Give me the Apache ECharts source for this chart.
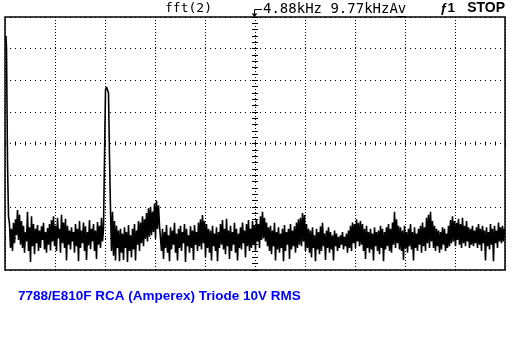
<!DOCTYPE html>
<html>
<head>
<meta charset="utf-8">
<script src="https://cdn.jsdelivr.net/npm/echarts@6/dist/echarts.min.js"></script>
<style>
html,body{margin:0;padding:0;background:#fff;}
#chart{width:522px;height:360px;}
</style>
</head>
<body>
<div id="chart"></div>
<script>
// ---- texts ----
const channelLabel = 'fft(2)';
const freqLabel = '4.88kHz 9.77kHzAv';
const trigLabel = 'ƒ1';
const stateLabel = 'STOP';
const captionText = '7788/E810F RCA (Amperex) Triode 10V RMS';

// ---- axis scale (screen divisions) ----
const binCount = 500;          // FFT bins across 10 horizontal divisions
const binsPerDiv = 50;
const vDivs = 8;               // vertical divisions

// ---- magnitude values (in vertical divisions above the bottom graticule), one per bin ----
// DC spike
const dcSpike = [7.40, 7.00, 3.40, 1.70];
// noise floor before the 1 kHz fundamental
const noiseLow = [
  1.45,0.70,1.30,0.60,1.49,0.85,1.60,
  1.10,1.90,0.95,1.75,0.80,1.55,
  0.70,1.40,0.55,1.20,0.90,1.84,0.60,1.35,
  0.25,1.70,0.75,1.45,0.50,1.30,0.85,1.42,0.60,1.25,
  0.70,1.38,0.95,1.49,0.65,1.20,0.55,1.33,0.80,1.45,
  0.62,1.58,0.90,1.70,0.75,1.40,0.60,1.65,1.00,1.30,
  0.55,1.75,0.85,1.50,0.70,1.62,0.30,1.40,0.80,1.25,
  0.65,1.35,0.90,1.20,0.55,1.45,0.75,1.30,0.28,1.55,
  0.70,1.25,0.85,1.50,0.60,1.38,0.32,1.20,0.78,1.58,
  0.66,1.30,0.90,1.45,0.60,1.25,0.35,1.52,0.80,1.40,
  0.70,1.65,0.90,1.30
];
// fundamental peak (~1 kHz)
const fundamental = [3.54, 5.70, 5.79, 5.79, 5.60, 3.58, 1.90];
// noise floor after the fundamental
const noiseHigh = [
  0.60,1.84,0.45,1.55,0.30,1.40,0.70,1.25,0.28,
  1.30,0.55,1.15,0.32,1.35,0.70,1.20,0.25,1.42,0.60,
  1.10,0.40,1.30,0.65,1.45,0.30,1.25,0.80,1.55,0.60,
  1.50,0.85,1.70,0.75,1.60,1.00,1.80,0.90,1.95,1.05,
  2.00,1.10,1.85,1.20,2.10,1.00,2.20,1.30,2.05,1.40,
  1.45,0.60,1.30,0.35,1.20,0.70,1.42,0.55,1.10,0.28,
  1.35,0.65,1.25,0.80,1.49,0.55,1.15,0.30,1.30,0.70,
  1.40,0.60,1.20,0.85,1.45,0.25,1.30,0.75,1.10,0.55,
  1.38,0.70,1.25,0.32,1.42,0.80,1.20,0.60,1.50,0.75,
  1.60,0.65,1.74,0.85,1.55,0.40,1.45,0.70,1.30,0.55,
  1.25,0.30,1.40,0.75,1.15,0.60,1.35,0.28,1.20,0.70,
  1.45,0.80,1.58,0.65,1.30,0.50,1.62,0.75,1.25,0.35,
  1.40,0.60,1.20,0.80,1.49,0.55,1.30,0.30,1.15,0.70,
  1.35,0.65,1.50,0.85,1.25,0.40,1.45,0.75,1.58,0.60,
  1.30,0.70,1.55,0.80,1.40,0.62,1.60,0.90,1.45,0.70,
  1.70,0.95,1.84,1.00,1.65,0.90,1.50,0.75,1.35,0.60,
  1.40,0.50,1.25,0.75,1.49,0.30,1.20,0.65,1.35,0.55,
  1.15,0.70,1.30,0.28,1.42,0.60,1.20,0.80,1.30,0.35,
  1.45,0.65,1.25,0.75,1.38,0.55,1.50,0.70,1.60,0.80,
  1.65,0.75,1.80,0.90,1.74,0.60,1.45,0.70,1.30,0.55,
  1.25,0.40,1.35,0.70,1.10,0.28,1.30,0.65,1.20,0.50,
  1.38,0.60,1.49,0.75,1.15,0.32,1.25,0.70,1.35,0.55,
  1.20,0.65,1.10,0.30,1.25,0.75,1.15,0.60,1.05,0.70,
  1.10,0.80,1.20,0.65,1.05,0.75,1.15,0.55,1.25,0.70,
  1.40,0.60,1.50,0.85,1.45,0.70,1.60,0.90,1.49,0.75,
  1.55,0.80,1.45,0.60,1.30,0.35,1.40,0.70,1.20,0.55,
  1.30,0.65,1.15,0.30,1.35,0.75,1.20,0.60,1.25,0.50,
  1.40,0.70,1.30,0.28,1.20,0.65,1.35,0.75,1.45,0.60,
  1.30,0.55,1.50,0.80,1.84,0.70,1.60,0.85,1.40,0.65,
  1.35,0.60,1.25,0.32,1.40,0.70,1.20,0.55,1.30,0.75,
  1.45,0.65,1.20,0.30,1.35,0.70,1.15,0.60,1.30,0.80,
  1.40,0.55,1.50,0.75,1.35,0.60,1.65,0.85,1.75,0.70,
  1.84,0.90,1.55,0.70,1.40,0.60,1.30,0.75,1.25,0.55,
  1.20,0.65,1.35,0.80,1.30,0.60,1.15,0.70,1.40,0.75,
  1.58,0.85,1.70,0.90,1.55,0.75,1.49,0.95,1.62,0.80,
  1.45,0.70,1.65,0.85,1.40,0.75,1.55,0.90,1.35,0.70,
  1.30,0.80,1.40,0.75,1.25,0.85,1.35,0.70,1.45,0.80,
  1.30,0.60,1.40,0.85,1.25,0.30,1.35,0.75,1.20,0.65,
  1.45,0.80,1.30,0.28,1.40,0.85,1.25,0.70,1.50,0.90,
  1.35,0.85,1.40,0.90,1.30
];

const magnitude = dcSpike.concat(noiseLow, fundamental, noiseHigh);
const traceData = magnitude.map((v, i) => [i + 1, v]);

const chart = echarts.init(document.getElementById('chart'), null, {renderer: 'canvas'});

const gridLeft = 5, gridTop = 17, gridW = 500, gridH = 253;

const option = {
  animation: false,
  backgroundColor: '#ffffff',
  grid: {
    left: gridLeft, top: gridTop, width: gridW, height: gridH,
    show: true, borderColor: '#000', borderWidth: 1.5, backgroundColor: 'transparent'
  },
  xAxis: [
    {
      type: 'value', min: 0, max: binCount, interval: binsPerDiv,
      axisLine: {show: false}, axisTick: {show: false}, axisLabel: {show: false},
      splitLine: {show: true, lineStyle: {color: '#000', width: 1, type: [1, 2]}}
    },
    {
      type: 'value', min: 0, max: binCount, interval: 10, position: 'bottom', offset: -gridH / 2,
      axisLine: {show: false}, axisLabel: {show: false}, splitLine: {show: false},
      axisTick: {show: true, inside: true, length: 2, lineStyle: {color: '#000', width: 1}}
    },
    {
      type: 'value', min: 0, max: binCount, interval: 10, position: 'bottom', offset: -gridH / 2,
      axisLine: {show: false}, axisLabel: {show: false}, splitLine: {show: false},
      axisTick: {show: true, inside: false, length: 2, lineStyle: {color: '#000', width: 1}}
    }
  ],
  yAxis: [
    {
      type: 'value', min: 0, max: vDivs, interval: 1,
      axisLine: {show: false}, axisTick: {show: false}, axisLabel: {show: false},
      splitLine: {show: true, lineStyle: {color: '#000', width: 1, type: [1, 4]}}
    },
    {
      type: 'value', min: 0, max: vDivs, interval: 0.2, position: 'left', offset: -gridW / 2,
      axisLine: {show: false}, axisLabel: {show: false}, splitLine: {show: false},
      axisTick: {show: true, inside: true, length: 3, lineStyle: {color: '#000', width: 1}}
    },
    {
      type: 'value', min: 0, max: vDivs, interval: 0.2, position: 'left', offset: -gridW / 2,
      axisLine: {show: false}, axisLabel: {show: false}, splitLine: {show: false},
      axisTick: {show: true, inside: false, length: 3, lineStyle: {color: '#000', width: 1}}
    }
  ],
  series: [
    {
      type: 'line', xAxisIndex: 0, yAxisIndex: 0,
      data: traceData, step: 'middle', showSymbol: false, symbol: 'none',
      lineStyle: {color: '#000', width: 1.6}, clip: true, silent: true
    }
  ],
  graphic: [
    {type: 'text', left: 165, top: 2, style: {text: channelLabel, font: '13px "DejaVu Sans Mono"', fill: '#000'}},
    {type: 'polyline', shape: {points: [[262, 9.5], [254.5, 9.5], [254.5, 14]]}, style: {stroke: '#000', lineWidth: 1, fill: null}},
    {type: 'polygon', shape: {points: [[251.5, 13.5], [257.5, 13.5], [254.5, 17]]}, style: {fill: '#000'}},
    {type: 'text', left: 263, top: 2, style: {text: freqLabel, font: '14px "DejaVu Sans Mono"', fill: '#000'}},
    {type: 'line', shape: {x1: 397, y1: 16.5, x2: 406, y2: 16.5}, style: {stroke: '#000', lineWidth: 1}},
    {type: 'text', left: 440, top: 1, style: {text: trigLabel, font: 'bold 13.5px "Liberation Sans"', fill: '#000'}},
    {type: 'text', right: 17, top: 1, style: {text: stateLabel, font: 'bold 14px "Liberation Sans"', fill: '#000'}},
    {type: 'text', left: 18, top: 289, style: {text: captionText, font: 'bold 13.5px "Liberation Sans"', fill: '#0000ff'}}
  ]
};
chart.setOption(option);
</script>
</body>
</html>
